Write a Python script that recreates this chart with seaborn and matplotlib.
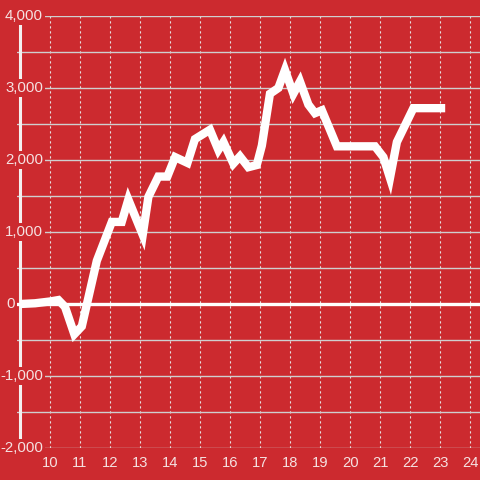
import numpy as np
import matplotlib
matplotlib.use("Agg")
import matplotlib.pyplot as plt
import seaborn as sns

# time of day (hours) and cumulative value
hours = [9.0, 9.5, 10.0, 10.28, 10.5, 10.81, 11.06, 11.56, 12.06,
         12.39, 12.61, 13.09, 13.28, 13.61, 13.91, 14.17, 14.58, 14.83, 15.33,
         15.61, 15.78, 16.11, 16.33, 16.61, 16.89, 17.06, 17.33, 17.61, 17.83,
         18.11, 18.33, 18.61, 18.83, 19.06, 19.56, 20.83, 21.11, 21.33, 21.56,
         22.11, 23.17]
values = [0, 10, 35, 55, -40, -420, -310, 600, 1140,
          1140, 1450, 960, 1490, 1770, 1770, 2040, 1960, 2290, 2420,
          2140, 2250, 1950, 2050, 1900, 1930, 2200, 2920, 3000, 3250,
          2920, 3090, 2770, 2650, 2690, 2190, 2190, 2040, 1750, 2250,
          2720, 2720]
x_ticks = list(range(10, 25))
y_labels = [-2000, -1000, 0, 1000, 2000, 3000, 4000]

red = "#cc2a2f"
txt = "#f5e1e1"

sns.set_theme(style="whitegrid", rc={"axes.facecolor": red, "figure.facecolor": red})
plt.rcParams["font.family"] = ["Liberation Sans", "DejaVu Sans"]

fig = plt.figure(figsize=(4.8, 4.8), dpi=100)
ax = fig.add_axes([17 / 480, 32 / 480, 1 - 17 / 480, 432 / 480])

sns.lineplot(x=hours, y=values, color="white", lw=6.0, ax=ax, zorder=4,
             solid_joinstyle="miter", solid_capstyle="butt")
ax.axhline(0, color="white", lw=2.4, zorder=3)
ax.axvline(9, color="#f4f0f0", lw=2.2, zorder=1)

ax.set_xlim(8.9, 24.33)
ax.set_ylim(-2000, 4000)
ax.set_yticks(np.arange(-2000, 4001, 500))
ax.set_yticklabels([])
ax.set_xticks(x_ticks)
ax.set_xticklabels([str(t) for t in x_ticks])
ax.tick_params(axis="y", length=0)
ax.tick_params(axis="x", length=0, pad=6, labelsize=10.6, labelcolor=txt)

ax.grid(axis="y", color="#cfcfcf", lw=1.0, ls="-")
ax.grid(axis="x", color="#e6e0e0", lw=0.8, ls=(0, (2, 2.5)))
for s in ax.spines.values():
    s.set_visible(False)

for v in y_labels:
    xpos = 8.83 if v == 0 else 9.77
    ax.text(xpos, v, f"{v:,}", ha="right", va="center", fontsize=10.8, color=txt,
            zorder=6, bbox=dict(boxstyle="square,pad=0.12", fc=red, ec="none"))

fig.savefig("out.png", dpi=100, facecolor=red)
